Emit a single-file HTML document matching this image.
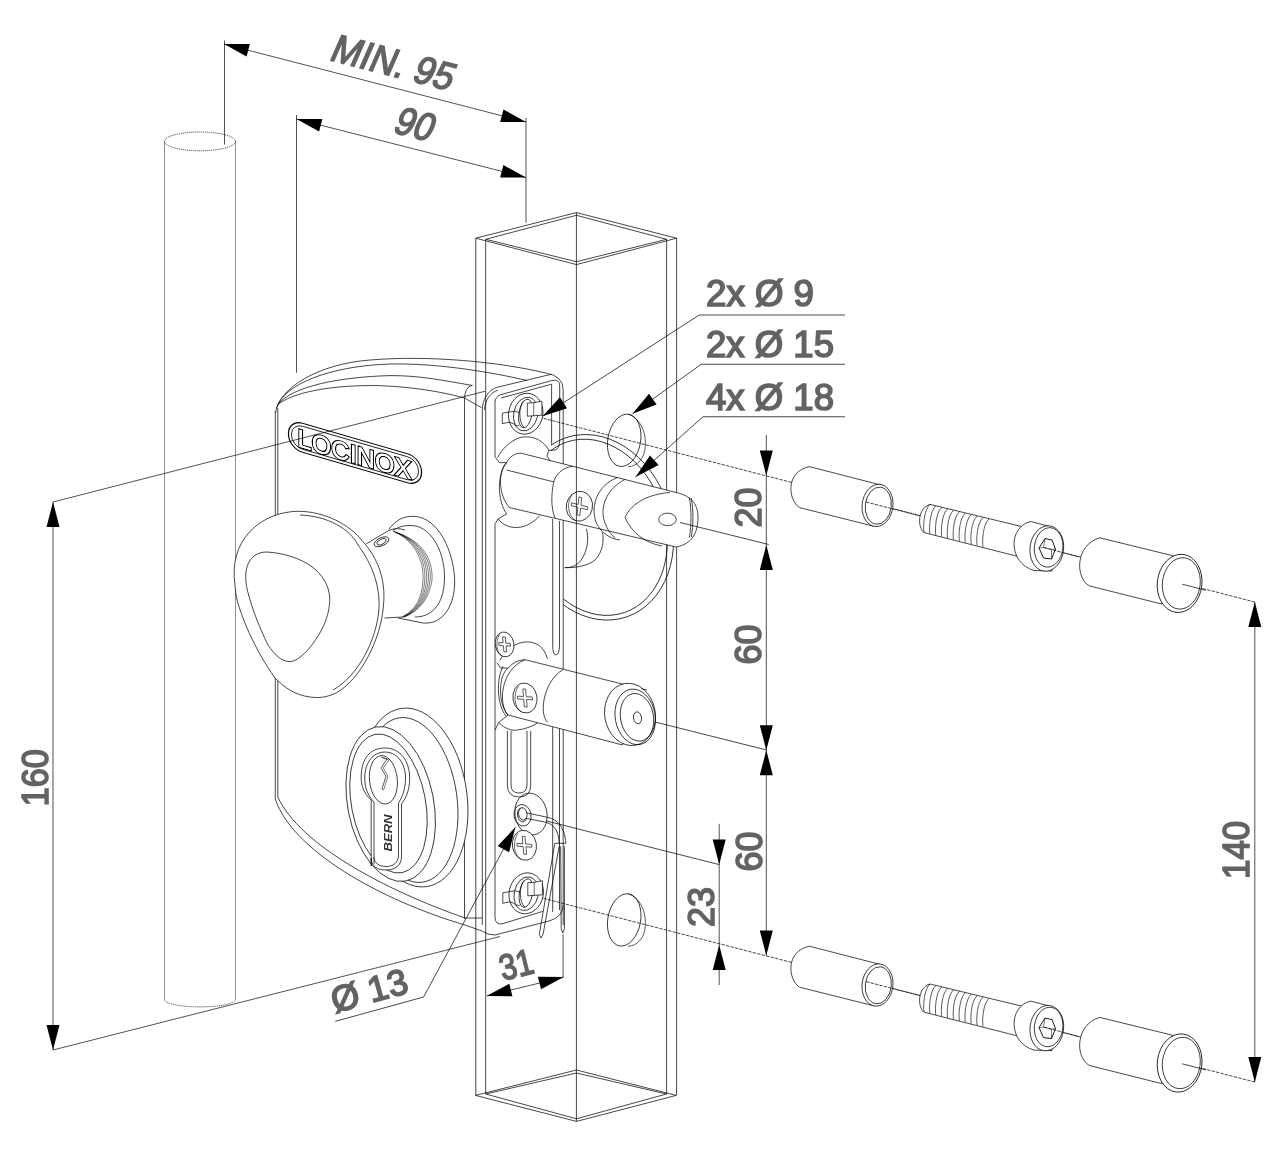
<!DOCTYPE html>
<html><head><meta charset="utf-8"><style>html,body{margin:0;padding:0;background:#fff;width:1280px;height:1155px;overflow:hidden}svg{display:block;will-change:transform}</style></head>
<body>
<svg width="1280" height="1155" viewBox="0 0 1280 1155">
<rect width="1280" height="1155" fill="#fff"/>
<line x1="164.50" y1="141.40" x2="164.50" y2="999.40" stroke="#222" stroke-width="1.008" stroke-dasharray="1 1"/>
<line x1="235.50" y1="141.40" x2="235.50" y2="999.40" stroke="#222" stroke-width="1.008" stroke-dasharray="1 1"/>
<ellipse cx="200" cy="141.4" rx="35.5" ry="9.4" transform="rotate(0 200 141.4)" stroke="#222" stroke-width="0.936" fill="none" stroke-dasharray="1 1"/>
<path d="M164.5,999.4 A35.5,7.5 0 0 0 235.5,999.4" stroke="#222" stroke-width="0.936" fill="none" stroke-dasharray="1 1"/>
<line x1="475.80" y1="238.20" x2="475.80" y2="1095.40" stroke="#000" stroke-width="0.720" />
<line x1="485.70" y1="239.30" x2="485.70" y2="1094.00" stroke="#000" stroke-width="0.720" />
<line x1="666.60" y1="239.30" x2="666.60" y2="1094.00" stroke="#000" stroke-width="0.720" />
<line x1="676.60" y1="238.20" x2="676.60" y2="1095.40" stroke="#000" stroke-width="0.720" />
<path d="M475.8,238.2 L576.4,212.6 L676.6,238.2 L576.4,264.6 Z" stroke="#000" stroke-width="0.720" fill="none" />
<path d="M485.7,239.3 L576.4,215.3 L666.6,239.3 L576.4,261.7 Z" stroke="#000" stroke-width="0.720" fill="none" />
<path d="M475.5,1095.4 L576.5,1070 L676.2,1095.4 L576.5,1121.4 Z" stroke="#000" stroke-width="0.720" fill="none" />
<path d="M485.7,1094 L576.5,1073 L666.5,1094 L576.5,1118.8 Z" stroke="#000" stroke-width="0.720" fill="none" />
<line x1="525.60" y1="413.75" x2="1254.80" y2="602.00" stroke="#000" stroke-width="0.720" stroke-dasharray="3.4 1.2"/>
<line x1="525.60" y1="893.75" x2="1254.80" y2="1082.00" stroke="#000" stroke-width="0.720" stroke-dasharray="3.4 1.2"/>
<line x1="638.40" y1="717.80" x2="766.50" y2="750.00" stroke="#000" stroke-width="0.720" />
<line x1="522.00" y1="814.80" x2="719.20" y2="864.60" stroke="#000" stroke-width="0.720" />
<line x1="275.30" y1="411.00" x2="275.30" y2="799.00" stroke="#000" stroke-width="0.720" />
<line x1="277.80" y1="408.00" x2="277.80" y2="797.00" stroke="#000" stroke-width="0.720" />
<path d="M275.3,799 C 292,850 380,900 465,925 L 482,931 Q 487,935 495,935 L 549,921 Q 563.2,917 563.2,905" stroke="#000" stroke-width="0.720" fill="none" />
<path d="M277.8,797 C 300,845 385,890 465,918 L 482,918" stroke="#000" stroke-width="0.720" fill="none" />
<path d="M464.5,919 L464.5,400 Q 464.5,386.5 472.3,385.4" stroke="#000" stroke-width="0.720" fill="none" />
<path d="M275.6,412.5 C 279,388 318,364 370,360 C 430,355 500,362 546.5,373.2 Q 563.2,376 563.2,390 L 563.2,925" stroke="#000" stroke-width="0.720" fill="none" />
<path d="M276.5,408 C 284,384 330,366 390,364 C 440,363 495,373 527,380.5" stroke="#000" stroke-width="0.720" fill="none" />
<path d="M277.5,405 C 292,386 340,377 390,375.6 C 420,375.5 440,380 472.3,385.4" stroke="#000" stroke-width="0.720" fill="none" />
<path d="M278.75,403.75 C 298,390 340,385 377.5,385.6 C 420,387 450,394 464.5,398 L 481.5,407.7" stroke="#000" stroke-width="0.720" fill="none" />
<path d="M482.3,925 L482.3,409.8 C 482.3,400 488,390 496.7,387.4 L 551.6,374.2" stroke="#000" stroke-width="0.720" fill="none" />
<path d="M484.5,410 C 485,400 490,393 498,390" stroke="#000" stroke-width="0.720" fill="none" />
<path d="M495,457 L495,402.7 Q 495,396.6 501,394.6 L 551.6,380.6 Q 559.7,378.6 559.7,386 L 559.7,441 Q 559.7,450 553.3,450.3 L 548.8,450.3" stroke="#000" stroke-width="0.720" fill="none" />
<path d="M501,398 L 551.6,384.2" stroke="#000" stroke-width="0.720" fill="none" />
<line x1="551.60" y1="384.40" x2="551.60" y2="444.30" stroke="#000" stroke-width="0.720" />
<path d="M495,523.4 L495,917 Q 495,925.6 503,923.6 L 542.8,911.4" stroke="#000" stroke-width="0.720" fill="none" />
<path d="M495.3,457 L499.3,462.6 L506.6,462.6" stroke="#000" stroke-width="0.720" fill="none" />
<path d="M497.7,457.5 C 502,449 510,441 520,437.5 C 530,435.5 542,438 548.8,450.3 L 547,456 L 551,462" stroke="#000" stroke-width="0.720" fill="none" />
<path d="M506.6,513.9 L498.1,518.9 L495.3,523.4" stroke="#000" stroke-width="0.720" fill="none" />
<path d="M498.1,518.9 C 503,526 512,528 518,527.4 C 527,527 535,521 539.8,515.6" stroke="#000" stroke-width="0.720" fill="none" />
<path d="M552.7,519 L552.7,645 Q 552.7,655 556,655 Q 559.5,654 559.5,645 L559.5,521" stroke="#000" stroke-width="0.720" fill="none" />
<ellipse cx="525.7" cy="413.7" rx="17.1" ry="20.6" transform="rotate(12 525.7 413.7)" stroke="#000" stroke-width="0.720" fill="#fff" />
<ellipse cx="525.7" cy="414.09999999999997" rx="12" ry="17" transform="rotate(12 525.7 414.09999999999997)" stroke="#000" stroke-width="0.720" fill="none" />
<ellipse cx="525.5" cy="413.5" rx="6.6" ry="14.5" transform="rotate(10 525.5 413.5)" stroke="#000" stroke-width="0.720" fill="none" />
<path d="M523.7,400.7 C 518.7,405.7 518.2,421.7 524.2,427.7" stroke="#000" stroke-width="0.720" fill="none" />
<path d="M509.1,412.0 L502.30000000000007,413.2 L502.30000000000007,423.7 L509.1,422.2" stroke="#000" stroke-width="0.720" fill="none" />
<path d="M509.1,412.0 L514.7,411.2 L519.7,412.7 M509.1,422.2 L513.7,423.7 L515.2,425.7 L519.2,425.7" stroke="#000" stroke-width="0.720" fill="none" />
<path d="M527.3000000000001,403.09999999999997 L533.7,402.7 L541.9000000000001,401.2 L541.9000000000001,415.2 L527.3000000000001,416.2 Z" stroke="#000" stroke-width="0.720" fill="#fff" />
<path d="M533.7,402.7 L533.7,415.7" stroke="#000" stroke-width="0.576" fill="none" />
<ellipse cx="526.2" cy="893.3" rx="17.1" ry="20.6" transform="rotate(12 526.2 893.3)" stroke="#000" stroke-width="0.720" fill="#fff" />
<ellipse cx="526.2" cy="893.6999999999999" rx="12" ry="17" transform="rotate(12 526.2 893.6999999999999)" stroke="#000" stroke-width="0.720" fill="none" />
<ellipse cx="526.0" cy="893.0999999999999" rx="6.6" ry="14.5" transform="rotate(10 526.0 893.0999999999999)" stroke="#000" stroke-width="0.720" fill="none" />
<path d="M524.2,880.3 C 519.2,885.3 518.7,901.3 524.7,907.3" stroke="#000" stroke-width="0.720" fill="none" />
<path d="M509.6,891.5999999999999 L502.80000000000007,892.8 L502.80000000000007,903.3 L509.6,901.8" stroke="#000" stroke-width="0.720" fill="none" />
<path d="M509.6,891.5999999999999 L515.2,890.8 L520.2,892.3 M509.6,901.8 L514.2,903.3 L515.7,905.3 L519.7,905.3" stroke="#000" stroke-width="0.720" fill="none" />
<path d="M527.8000000000001,882.6999999999999 L534.2,882.3 L542.4000000000001,880.8 L542.4000000000001,894.8 L527.8000000000001,895.8 Z" stroke="#000" stroke-width="0.720" fill="#fff" />
<path d="M534.2,882.3 L534.2,895.3" stroke="#000" stroke-width="0.576" fill="none" />
<clipPath id="cbig"><polygon points="551,400 760,400 760,700 563.5,700 563.5,470 551,470"/></clipPath>
<g clip-path="url(#cbig)">
<ellipse cx="596.3" cy="527.3" rx="75" ry="94.6" transform="rotate(-18.7 596.3 527.3)" stroke="#000" stroke-width="0.720" fill="none" />
<ellipse cx="595.5" cy="527.3" rx="69.5" ry="90" transform="rotate(-18.7 595.5 527.3)" stroke="#000" stroke-width="0.720" fill="none" />
</g>
<ellipse cx="624.2" cy="440.3" rx="16.4" ry="26.4" transform="rotate(10 624.2 440.3)" stroke="#000" stroke-width="0.720" fill="none" />
<path d="M628.5,414.2 C 639,418 646,430 645.4,445 C 645,458 638,466 628,466.8" stroke="#000" stroke-width="0.648" fill="none" />
<ellipse cx="624.2" cy="919.9000000000001" rx="16.4" ry="26.4" transform="rotate(10 624.2 919.9000000000001)" stroke="#000" stroke-width="0.720" fill="none" />
<path d="M628.5,893.8 C 639,897.6 646,909.6 645.4,924.6 C 645,937.6 638,945.6 628,946.4000000000001" stroke="#000" stroke-width="0.648" fill="none" />
<path d="M520.7,453.1 L676.25,492.5 C 692,496 698,505 698,517 C 698,533 692,544 676.25,547 L 509.4,507.5 C 498,495 498,470 506.6,462.6 C 510,456 515,453.5 520.7,453.1 Z" stroke="#000" stroke-width="0.720" fill="#fff" />
<path d="M506.6,470 L553.75,481.9" stroke="#000" stroke-width="0.720" fill="none" />
<path d="M553.75,481.9 C 551,495 551,508 555,518.1" stroke="#000" stroke-width="0.720" fill="none" />
<path d="M553.75,481.9 C 556,474 562,468 572.5,466.25" stroke="#000" stroke-width="0.720" fill="none" />
<path d="M506.6,462.6 C 497,475 497,500 506.6,513.9" stroke="#000" stroke-width="0.720" fill="none" />
<path d="M617.5,477.5 C 598,485 590,505 596,522 C 600,532 610,539 620,540" stroke="#000" stroke-width="0.720" fill="none" />
<path d="M625,479.4 C 608,488 600,505 604,520 C 607,530 612,536 615,537.5" stroke="#000" stroke-width="0.720" fill="none" />
<path d="M625,517.5 C 632,502 650,494 670,492.5" stroke="#000" stroke-width="0.720" fill="none" />
<path d="M625,517.5 C 632,533 645,543 662,546" stroke="#000" stroke-width="0.720" fill="none" />
<path d="M689.4,497.5 C 691.5,510 691.5,525 689.4,537.5" stroke="#000" stroke-width="0.720" fill="none" />
<path d="M691.25,498 C 693.5,510 693.5,525 691.25,537" stroke="#000" stroke-width="0.720" fill="none" />
<ellipse cx="667.5" cy="519.4" rx="8.75" ry="6.25" transform="rotate(0 667.5 519.4)" stroke="#000" stroke-width="0.720" fill="none" />
<line x1="680.00" y1="522.50" x2="768.75" y2="544.50" stroke="#000" stroke-width="0.720" />
<ellipse cx="579.4" cy="506.25" rx="13.1" ry="15" transform="rotate(12 579.4 506.25)" stroke="#000" stroke-width="0.720" fill="#fff" />
<path d="M572.1949999999999,494.25 C 566.3,503.25 567.61,515.25 575.47,520.5" stroke="#000" stroke-width="0.576" fill="none" />
<polygon points="578.95,496.94 581.73,497.66 580.94,505.21 587.62,506.92 587.33,509.71 580.65,508.00 579.85,515.56 577.07,514.84 577.86,507.29 571.18,505.58 571.47,502.79 578.15,504.50" fill="#fff" stroke="#000" stroke-width="0.648"/>
<path d="M586.25,528.75 C 589,537 588,550 581.25,560 C 577,566 570,568 564.8,567.6" stroke="#000" stroke-width="0.720" fill="none" />
<path d="M602.5,532.5 C 604,540 603,552 595,560 C 588,566 575,568 564.8,567.6" stroke="#000" stroke-width="0.720" fill="none" />
<path d="M496.9,662.5 L500.6,668.1 L508.1,668.1" stroke="#000" stroke-width="0.720" fill="none" />
<path d="M499.7,660.6 C 505,650 516,642 526.9,641.9 C 537,642 544,647 547.5,658.8" stroke="#000" stroke-width="0.720" fill="none" />
<path d="M508.1,715 L498.75,722.5 L495,730" stroke="#000" stroke-width="0.720" fill="none" />
<path d="M498.75,722.5 C 505,729 512,731 517.5,730 C 526,729 533,726 538.1,722.5" stroke="#000" stroke-width="0.720" fill="none" />
<path d="M525,659.7 L641.25,688.75 L622.5,745 L508.1,715 C 498,705 498,675 508.1,668.1 Q 515,660 525,659.7 Z" stroke="#000" stroke-width="0.720" fill="#fff" />
<path d="M525,659.7 C 500,670 498,705 508.1,715" stroke="#000" stroke-width="0.720" fill="none" />
<path d="M503,666 C 496,680 497,705 506,716" stroke="#000" stroke-width="0.720" fill="none" />
<path d="M562.5,670 C 545,680 538,712 547.5,722.5" stroke="#000" stroke-width="0.720" fill="none" />
<ellipse cx="630" cy="714.4" rx="25.3" ry="31.3" transform="rotate(-10 630 714.4)" stroke="#000" stroke-width="0.720" fill="#fff" />
<ellipse cx="635.2" cy="716.9" rx="20" ry="28" transform="rotate(-10 635.2 716.9)" stroke="#000" stroke-width="0.720" fill="none" />
<ellipse cx="637" cy="717.3" rx="16.5" ry="24" transform="rotate(-10 637 717.3)" stroke="#000" stroke-width="0.720" fill="none" />
<ellipse cx="637.5" cy="717.8" rx="4" ry="6" transform="rotate(-10 637.5 717.8)" stroke="#000" stroke-width="0.720" fill="none" />
<path d="M641.25,688.75 L 647,690" stroke="#000" stroke-width="0.720" fill="none" />
<ellipse cx="525" cy="698" rx="12" ry="15" transform="rotate(-10 525 698)" stroke="#000" stroke-width="0.720" fill="#fff" />
<path d="M518.4,686.0 C 513.0,695.0 514.2,707.0 521.4,712.25" stroke="#000" stroke-width="0.576" fill="none" />
<polygon points="522.82,688.95 525.61,689.12 526.27,696.69 532.29,697.07 532.53,699.86 526.52,699.48 527.18,707.05 524.39,706.88 523.73,699.31 517.71,698.93 517.47,696.14 523.48,696.52" fill="#fff" stroke="#000" stroke-width="0.648"/>
<ellipse cx="504.6" cy="644.4" rx="9.3" ry="12.5" transform="rotate(-10 504.6 644.4)" stroke="#000" stroke-width="0.720" fill="#fff" />
<path d="M499.485,634.4 C 495.3,641.9 496.23,651.9 501.81,656.275" stroke="#000" stroke-width="0.576" fill="none" />
<polygon points="502.55,636.84 505.34,637.02 505.87,643.09 510.22,643.37 510.47,646.16 506.12,645.88 506.65,651.96 503.86,651.78 503.33,645.71 498.98,645.43 498.73,642.64 503.08,642.92" fill="#fff" stroke="#000" stroke-width="0.648"/>
<ellipse cx="531" cy="814" rx="16" ry="21" transform="rotate(-10 531 814)" stroke="#000" stroke-width="0.720" fill="#fff" />
<ellipse cx="522.6" cy="815.3" rx="8.5" ry="10.8" transform="rotate(-10 522.6 815.3)" stroke="#000" stroke-width="0.720" fill="none" />
<ellipse cx="522" cy="815" rx="4.5" ry="7" transform="rotate(-10 522 815)" stroke="#000" stroke-width="0.720" fill="none" />
<ellipse cx="524.4" cy="845.3" rx="12" ry="15" transform="rotate(-10 524.4 845.3)" stroke="#000" stroke-width="0.720" fill="#fff" />
<path d="M517.8,833.3 C 512.4,842.3 513.6,854.3 520.8,859.55" stroke="#000" stroke-width="0.576" fill="none" />
<polygon points="522.22,836.25 525.01,836.42 525.67,843.99 531.69,844.37 531.93,847.16 525.92,846.78 526.58,854.35 523.79,854.18 523.13,846.61 517.11,846.23 516.87,843.44 522.88,843.82" fill="#fff" stroke="#000" stroke-width="0.648"/>
<path d="M507.4,731 L507.4,785 Q 507.4,797 519,797 Q 530.7,797 530.7,785 L530.7,731" stroke="#000" stroke-width="0.720" fill="none" />
<path d="M511,731 L511,785 Q 511,793 519,793 Q 527,793 527,785 L527,731" stroke="#000" stroke-width="0.720" fill="none" />
<line x1="552.70" y1="727.00" x2="552.70" y2="912.00" stroke="#000" stroke-width="0.720" />
<line x1="559.50" y1="729.00" x2="559.50" y2="910.00" stroke="#000" stroke-width="0.720" />
<line x1="576.40" y1="212.60" x2="576.40" y2="1121.40" stroke="#000" stroke-width="0.720" />
<path d="M520.9,811.7 L548.9,817.6 C 553,818.8 557,821 560,825 C 563,829 565.5,836 565.8,843.3 L 554.8,843.3 L 539.3,934.6 L 541,938 L 543,934.6 L 559.2,846.3" stroke="#000" stroke-width="0.720" fill="none" />
<path d="M522.4,817.6 L544.5,822 C 549,823 553,825 555.5,829 C 558,833 559,838 559.2,843.3" stroke="#000" stroke-width="0.720" fill="none" />
<path d="M560.7,846.3 L561.2,928.7 L 562.8,933 L 564.4,928.7 L564.4,846.3" stroke="#000" stroke-width="0.720" fill="none" />
<ellipse cx="522.8" cy="813.9" rx="4.2" ry="6.2" transform="rotate(-10 522.8 813.9)" stroke="#000" stroke-width="0.720" fill="#fff" />
<path d="M388.6,529.6 C 395,521 402,517 410,516.4 C 435,514 452,545 454.6,577.3 C 456,605 443,625 423.1,623 L 398,618" stroke="#000" stroke-width="0.720" fill="none" />
<path d="M392.7,530.6 C 398,527 403,525.5 409,525.5 C 430,524 444,550 444.5,575.3 C 445,600 435,617 415,617" stroke="#000" stroke-width="0.720" fill="none" />
<path d="M393.0,531.0 C 418,542 424,565 423,580 C 422.0,598 416.0,610 402.0,617" stroke="#000" stroke-width="0.504" fill="none" />
<path d="M393.72,531.36 C 419.8,542 425.8,565 424.8,580 C 423.44,598 416.9,610 402.54,617" stroke="#000" stroke-width="0.504" fill="none" />
<path d="M394.44,531.72 C 421.6,542 427.6,565 426.6,580 C 424.88,598 417.8,610 403.08,617" stroke="#000" stroke-width="0.504" fill="none" />
<path d="M395.16,532.08 C 423.4,542 429.4,565 428.4,580 C 426.32,598 418.7,610 403.62,617" stroke="#000" stroke-width="0.504" fill="none" />
<path d="M395.88,532.44 C 425.2,542 431.2,565 430.2,580 C 427.76,598 419.6,610 404.16,617" stroke="#000" stroke-width="0.504" fill="none" />
<path d="M396.6,532.8 C 427.0,542 433.0,565 432.0,580 C 429.2,598 420.5,610 404.7,617" stroke="#000" stroke-width="0.504" fill="none" />
<path d="M366.3,543.8 L388.6,530.6 Q 396,527 405,530" stroke="#000" stroke-width="0.720" fill="none" />
<path d="M384.5,618 L 402.8,617" stroke="#000" stroke-width="0.720" fill="none" />
<ellipse cx="381.5" cy="541.8" rx="8" ry="4" transform="rotate(-25 381.5 541.8)" stroke="#000" stroke-width="0.720" fill="none" />
<ellipse cx="381.5" cy="541.8" rx="5" ry="2.5" transform="rotate(-25 381.5 541.8)" stroke="#000" stroke-width="0.720" fill="none" />
<path d="M234.2,577.3 C 232,535 265,512 297.2,511.3 C 325,511 350,525 362.2,540.8 C 378,558 386,580 383.5,605 C 381,640 360,680 335.8,693.1 C 325,698 318,698 310,697 C 295,695 285,688 275,678 C 255,650 240,615 236,595 Z" stroke="#000" stroke-width="0.720" fill="#fff" />
<path d="M300,515 C 328,516 350,529 358,545 C 372,564 380,585 379,608 C 377,640 358,676 333,690" stroke="#000" stroke-width="0.720" fill="none" />
<path d="M266.7,552 C 285,553 301,559 311,566 C 322,574 329,585 329.7,597.7 C 330,612 325,630 307.3,650.5 C 300,658 295,661.6 289,661.6 C 281,661 275,655 268,645 C 258,625 249,600 246.4,585.5 C 244,570 248,561 254,556 C 258,553 262,552 266.7,552 Z" stroke="#000" stroke-width="0.720" fill="none" />
<g transform="translate(355,453) skewY(16.2)">
<rect x="-66.5" y="-14.5" width="133" height="29" rx="14" fill="none" stroke="#000" stroke-width="1.2"/>
<rect x="-63.5" y="-11.5" width="127" height="23" rx="11" fill="none" stroke="#000" stroke-width="0.8"/>
<text x="-0.5" y="10" font-family="Liberation Sans, sans-serif" font-size="25" font-weight="normal" text-anchor="middle" textLength="114" lengthAdjust="spacing" fill="#fff" stroke="#000" stroke-width="2.4" paint-order="stroke">LOCINOX</text>
<text x="-0.5" y="10" font-family="Liberation Sans, sans-serif" font-size="25" font-weight="normal" text-anchor="middle" textLength="114" lengthAdjust="spacing" fill="#fff" stroke="none">LOCINOX</text>
</g>
<ellipse cx="414" cy="797.5" rx="53" ry="90" transform="rotate(-8 414 797.5)" stroke="#000" stroke-width="0.720" fill="#fff" />
<ellipse cx="411" cy="800" rx="46" ry="83" transform="rotate(-8 411 800)" stroke="#000" stroke-width="0.720" fill="none" />
<ellipse cx="390.7" cy="804" rx="43" ry="78.5" transform="rotate(-11 390.7 804)" stroke="#000" stroke-width="0.720" fill="#fff" />
<ellipse cx="388.5" cy="803.5" rx="37" ry="70.5" transform="rotate(-11 388.5 803.5)" stroke="#000" stroke-width="0.720" fill="none" />
<path d="M371.2,866 L371.2,800 C 363,793 360,783 361.5,772 C 363,756 372,748 385,748 C 398,748 408,758 409.5,774 C 410.5,787 407,797 401.5,804 L401.5,856 C 401.5,866 395,870 386,870 C 377,870 371.2,866 371.2,858 Z" stroke="#000" stroke-width="0.720" fill="#fff" />
<path d="M374,864 L374,802 C 366,794 364,784 365,773 C 367,759 375,752 385,752 C 396,752 404,761 405.5,775 C 406,787 403,796 398.5,803 L398.5,855 C 398.5,863 393,866.5 386,866.5 C 379,866.5 374,863 374,857" stroke="#000" stroke-width="0.720" fill="none" />
<ellipse cx="383.4" cy="779.8" rx="13.9" ry="24.3" transform="rotate(-6 383.4 779.8)" stroke="#000" stroke-width="0.720" fill="none" />
<path d="M381,757 L387,759 L381,768 L386,776 L382,789 L384,790" stroke="#000" stroke-width="0.648" fill="none" />
<path d="M383,758 L389,760 L383,768 L388,776 L384,789" stroke="#000" stroke-width="0.504" fill="none" />
<text x="0" y="0" font-family="Liberation Sans, sans-serif" font-size="11.5" font-weight="bold" font-style="italic" text-anchor="middle" textLength="37" lengthAdjust="spacingAndGlyphs" transform="translate(391.5,833) rotate(-90)" fill="#333">BERN</text>
<g transform="translate(0,0)">
<path d="M809.3,466.6 L881.6,485.2 L873.75,526.2 L799.5,507.6 C 788,500 785,472 809.3,466.6 Z" stroke="#000" stroke-width="0.720" fill="#fff" />
<ellipse cx="877.5" cy="505.4" rx="15.4" ry="21.2" transform="rotate(7 877.5 505.4)" stroke="#000" stroke-width="0.720" fill="#fff" />
<ellipse cx="878.3" cy="505.7" rx="13" ry="18.6" transform="rotate(7 878.3 505.7)" stroke="#000" stroke-width="0.720" fill="none" />
<line x1="866.00" y1="502.00" x2="921.00" y2="516.20" stroke="#000" stroke-width="0.720" stroke-dasharray="3.4 1.2"/>
<path d="M930,504.4 L1032,529 L1026,558.5 L923.75,532.5 C 917,526 918,508 930,504.4 Z" stroke="#000" stroke-width="0.720" fill="#fff" />
<path d="M930.0,504.4 C 924.0,509.4 923.0,526.4 924.0,532.4" stroke="#000" stroke-width="0.648" fill="none" />
<path d="M935.9,505.84999999999997 C 929.9,510.84999999999997 928.9,527.8499999999999 929.9,533.8499999999999" stroke="#000" stroke-width="0.648" fill="none" />
<path d="M941.8,507.29999999999995 C 935.8,512.3 934.8,529.3 935.8,535.3" stroke="#000" stroke-width="0.648" fill="none" />
<path d="M947.7,508.75 C 941.7,513.75 940.7,530.75 941.7,536.75" stroke="#000" stroke-width="0.648" fill="none" />
<path d="M953.6,510.2 C 947.6,515.2 946.6,532.2 947.6,538.2" stroke="#000" stroke-width="0.648" fill="none" />
<path d="M959.5,511.65 C 953.5,516.65 952.5,533.65 953.5,539.65" stroke="#000" stroke-width="0.648" fill="none" />
<path d="M965.4,513.1 C 959.4,518.1 958.4,535.1 959.4,541.1" stroke="#000" stroke-width="0.648" fill="none" />
<path d="M971.3,514.55 C 965.3,519.55 964.3,536.55 965.3,542.55" stroke="#000" stroke-width="0.648" fill="none" />
<path d="M977.2,516.0 C 971.2,521.0 970.2,538.0 971.2,544.0" stroke="#000" stroke-width="0.648" fill="none" />
<path d="M983.1,517.4499999999999 C 977.1,522.4499999999999 976.1,539.4499999999999 977.1,545.4499999999999" stroke="#000" stroke-width="0.648" fill="none" />
<path d="M989.0,518.9 C 983.0,523.9 982.0,540.9 983.0,546.9" stroke="#000" stroke-width="0.648" fill="none" />
<path d="M1030.5,521.5 L1050,526.5 L1052,571 L1034,570.5 C 1008,563 1008,527 1030.5,521.5 Z" stroke="#000" stroke-width="0.720" fill="#fff" />
<ellipse cx="1046.8" cy="548.5" rx="16.8" ry="22.8" transform="rotate(7 1046.8 548.5)" stroke="#000" stroke-width="0.720" fill="#fff" />
<ellipse cx="1048.6" cy="547.4" rx="14.2" ry="19.8" transform="rotate(7 1048.6 547.4)" stroke="#000" stroke-width="0.720" fill="none" />
<polygon points="1045,538.5 1052,540 1055.5,549 1051.5,559 1043.5,558 1039,548" fill="#fff" stroke="#000" stroke-width="0.9"/>
<path d="M1045,538.5 L1043.5,547.5 L1039,548 M1043.5,547.5 L1051.5,549.5 L1055.5,549 M1051.5,549.5 L1051.5,559" stroke="#000" stroke-width="0.504" fill="none" />
<line x1="1044.00" y1="547.50" x2="1079.50" y2="557.20" stroke="#000" stroke-width="0.720" stroke-dasharray="3.4 1.2"/>
<path d="M1099.7,537.8 L1173.6,555.9 L1161.6,604 L1089.4,585.9 C 1075,578 1075,545 1099.7,537.8 Z" stroke="#000" stroke-width="0.720" fill="#fff" />
<ellipse cx="1179.6" cy="583.4" rx="22.3" ry="29.2" transform="rotate(7 1179.6 583.4)" stroke="#000" stroke-width="0.792" fill="#fff" />
<ellipse cx="1181.3" cy="583.4" rx="18.9" ry="25.8" transform="rotate(7 1181.3 583.4)" stroke="#000" stroke-width="0.720" fill="none" />
<line x1="1182.20" y1="584.20" x2="1206.00" y2="590.30" stroke="#000" stroke-width="0.720" />
</g>
<g transform="translate(0,479.6)">
<path d="M809.3,466.6 L881.6,485.2 L873.75,526.2 L799.5,507.6 C 788,500 785,472 809.3,466.6 Z" stroke="#000" stroke-width="0.720" fill="#fff" />
<ellipse cx="877.5" cy="505.4" rx="15.4" ry="21.2" transform="rotate(7 877.5 505.4)" stroke="#000" stroke-width="0.720" fill="#fff" />
<ellipse cx="878.3" cy="505.7" rx="13" ry="18.6" transform="rotate(7 878.3 505.7)" stroke="#000" stroke-width="0.720" fill="none" />
<line x1="866.00" y1="502.00" x2="921.00" y2="516.20" stroke="#000" stroke-width="0.720" stroke-dasharray="3.4 1.2"/>
<path d="M930,504.4 L1032,529 L1026,558.5 L923.75,532.5 C 917,526 918,508 930,504.4 Z" stroke="#000" stroke-width="0.720" fill="#fff" />
<path d="M930.0,504.4 C 924.0,509.4 923.0,526.4 924.0,532.4" stroke="#000" stroke-width="0.648" fill="none" />
<path d="M935.9,505.84999999999997 C 929.9,510.84999999999997 928.9,527.8499999999999 929.9,533.8499999999999" stroke="#000" stroke-width="0.648" fill="none" />
<path d="M941.8,507.29999999999995 C 935.8,512.3 934.8,529.3 935.8,535.3" stroke="#000" stroke-width="0.648" fill="none" />
<path d="M947.7,508.75 C 941.7,513.75 940.7,530.75 941.7,536.75" stroke="#000" stroke-width="0.648" fill="none" />
<path d="M953.6,510.2 C 947.6,515.2 946.6,532.2 947.6,538.2" stroke="#000" stroke-width="0.648" fill="none" />
<path d="M959.5,511.65 C 953.5,516.65 952.5,533.65 953.5,539.65" stroke="#000" stroke-width="0.648" fill="none" />
<path d="M965.4,513.1 C 959.4,518.1 958.4,535.1 959.4,541.1" stroke="#000" stroke-width="0.648" fill="none" />
<path d="M971.3,514.55 C 965.3,519.55 964.3,536.55 965.3,542.55" stroke="#000" stroke-width="0.648" fill="none" />
<path d="M977.2,516.0 C 971.2,521.0 970.2,538.0 971.2,544.0" stroke="#000" stroke-width="0.648" fill="none" />
<path d="M983.1,517.4499999999999 C 977.1,522.4499999999999 976.1,539.4499999999999 977.1,545.4499999999999" stroke="#000" stroke-width="0.648" fill="none" />
<path d="M989.0,518.9 C 983.0,523.9 982.0,540.9 983.0,546.9" stroke="#000" stroke-width="0.648" fill="none" />
<path d="M1030.5,521.5 L1050,526.5 L1052,571 L1034,570.5 C 1008,563 1008,527 1030.5,521.5 Z" stroke="#000" stroke-width="0.720" fill="#fff" />
<ellipse cx="1046.8" cy="548.5" rx="16.8" ry="22.8" transform="rotate(7 1046.8 548.5)" stroke="#000" stroke-width="0.720" fill="#fff" />
<ellipse cx="1048.6" cy="547.4" rx="14.2" ry="19.8" transform="rotate(7 1048.6 547.4)" stroke="#000" stroke-width="0.720" fill="none" />
<polygon points="1045,538.5 1052,540 1055.5,549 1051.5,559 1043.5,558 1039,548" fill="#fff" stroke="#000" stroke-width="0.9"/>
<path d="M1045,538.5 L1043.5,547.5 L1039,548 M1043.5,547.5 L1051.5,549.5 L1055.5,549 M1051.5,549.5 L1051.5,559" stroke="#000" stroke-width="0.504" fill="none" />
<line x1="1044.00" y1="547.50" x2="1079.50" y2="557.20" stroke="#000" stroke-width="0.720" stroke-dasharray="3.4 1.2"/>
<path d="M1099.7,537.8 L1173.6,555.9 L1161.6,604 L1089.4,585.9 C 1075,578 1075,545 1099.7,537.8 Z" stroke="#000" stroke-width="0.720" fill="#fff" />
<ellipse cx="1179.6" cy="583.4" rx="22.3" ry="29.2" transform="rotate(7 1179.6 583.4)" stroke="#000" stroke-width="0.792" fill="#fff" />
<ellipse cx="1181.3" cy="583.4" rx="18.9" ry="25.8" transform="rotate(7 1181.3 583.4)" stroke="#000" stroke-width="0.720" fill="none" />
<line x1="1182.20" y1="584.20" x2="1206.00" y2="590.30" stroke="#000" stroke-width="0.720" />
</g>
<line x1="224.50" y1="40.50" x2="224.50" y2="144.50" stroke="#000" stroke-width="0.684" />
<line x1="526.00" y1="118.00" x2="526.00" y2="222.60" stroke="#000" stroke-width="0.684" />
<line x1="224.00" y1="44.00" x2="526.00" y2="122.00" stroke="#000" stroke-width="0.684" />
<polygon points="224.00,44.00 249.83,43.96 246.58,56.55" fill="#000"/>
<polygon points="526.00,122.00 500.17,122.04 503.42,109.45" fill="#000"/>
<line x1="296.50" y1="115.00" x2="296.50" y2="372.75" stroke="#000" stroke-width="0.684" />
<line x1="296.50" y1="119.00" x2="526.00" y2="177.50" stroke="#000" stroke-width="0.684" />
<polygon points="296.50,119.00 322.33,118.88 319.12,131.47" fill="#000"/>
<polygon points="526.00,177.50 500.17,177.62 503.38,165.03" fill="#000"/>
<line x1="53.00" y1="502.00" x2="53.00" y2="1050.00" stroke="#000" stroke-width="0.684" />
<polygon points="53.00,502.00 59.50,527.00 46.50,527.00" fill="#000"/>
<polygon points="53.00,1050.00 46.50,1025.00 59.50,1025.00" fill="#000"/>
<line x1="53.00" y1="502.00" x2="485.00" y2="391.25" stroke="#000" stroke-width="0.684" />
<line x1="53.00" y1="1050.00" x2="500.00" y2="936.50" stroke="#000" stroke-width="0.684" />
<line x1="766.30" y1="435.00" x2="766.30" y2="955.60" stroke="#000" stroke-width="0.684" />
<polygon points="766.30,475.50 759.80,450.50 772.80,450.50" fill="#000"/>
<polygon points="766.30,545.00 772.80,570.00 759.80,570.00" fill="#000"/>
<polygon points="766.30,750.20 759.80,725.20 772.80,725.20" fill="#000"/>
<polygon points="766.30,750.20 772.80,775.20 759.80,775.20" fill="#000"/>
<polygon points="766.30,955.60 759.80,930.60 772.80,930.60" fill="#000"/>
<line x1="719.20" y1="823.80" x2="719.20" y2="985.00" stroke="#000" stroke-width="0.684" />
<polygon points="719.20,864.60 712.70,839.60 725.70,839.60" fill="#000"/>
<polygon points="719.20,945.00 725.70,970.00 712.70,970.00" fill="#000"/>
<line x1="1254.80" y1="602.00" x2="1254.80" y2="1082.00" stroke="#000" stroke-width="0.684" />
<polygon points="1254.80,602.00 1261.30,627.00 1248.30,627.00" fill="#000"/>
<polygon points="1254.80,1082.00 1248.30,1057.00 1261.30,1057.00" fill="#000"/>
<line x1="563.10" y1="934.00" x2="563.10" y2="977.10" stroke="#000" stroke-width="0.684" />
<line x1="486.60" y1="996.00" x2="563.75" y2="977.10" stroke="#000" stroke-width="0.684" />
<polygon points="486.60,996.00 509.34,983.74 512.43,996.36" fill="#000"/>
<polygon points="563.75,977.10 541.01,989.36 537.92,976.74" fill="#000"/>
<path d="M845,315 L699.25,315 L542.5,416.25" stroke="#000" stroke-width="0.720" fill="none" />
<polygon points="542.50,416.25 559.97,397.23 567.03,408.15" fill="#000"/>
<path d="M845,364.25 L701.25,364.25 L632.5,413.75" stroke="#000" stroke-width="0.720" fill="none" />
<polygon points="632.50,413.75 648.99,393.87 656.59,404.42" fill="#000"/>
<path d="M845,416.75 L703,416.75 L635.6,476.9" stroke="#000" stroke-width="0.720" fill="none" />
<polygon points="635.60,476.90 649.92,455.40 658.58,465.10" fill="#000"/>
<path d="M335.2,1021.4 L423.6,997 L515.3,827.2" stroke="#000" stroke-width="0.720" fill="none" />
<polygon points="515.30,827.20 509.14,852.29 497.70,846.11" fill="#000"/>
<g fill="#636363" stroke="#636363" stroke-width="1.6" font-family="Liberation Sans, sans-serif" font-weight="normal">
<text x="706" y="306" font-size="36" text-anchor="start" textLength="108" lengthAdjust="spacingAndGlyphs" transform="">2x Ø 9</text>
<text x="706" y="357" font-size="36" text-anchor="start" textLength="128" lengthAdjust="spacingAndGlyphs" transform="">2x Ø 15</text>
<text x="706" y="409.5" font-size="36" text-anchor="start" textLength="128" lengthAdjust="spacingAndGlyphs" transform="">4x Ø 18</text>
<text x="0" y="0" font-size="37" text-anchor="middle" textLength="40" lengthAdjust="spacingAndGlyphs" transform="translate(761,507.5) rotate(-90)">20</text>
<text x="0" y="0" font-size="37" text-anchor="middle" textLength="40" lengthAdjust="spacingAndGlyphs" transform="translate(761,644.6) rotate(-90)">60</text>
<text x="0" y="0" font-size="37" text-anchor="middle" textLength="40" lengthAdjust="spacingAndGlyphs" transform="translate(761.5,851.5) rotate(-90)">60</text>
<text x="0" y="0" font-size="37" text-anchor="middle" textLength="40" lengthAdjust="spacingAndGlyphs" transform="translate(714,907) rotate(-90)">23</text>
<text x="0" y="0" font-size="37" text-anchor="middle" textLength="58" lengthAdjust="spacingAndGlyphs" transform="translate(1249.3,849.9) rotate(-90)">140</text>
<text x="0" y="0" font-size="37" text-anchor="middle" textLength="57" lengthAdjust="spacingAndGlyphs" transform="translate(47.8,777.7) rotate(-90)">160</text>
<text x="0" y="0" font-size="36" text-anchor="start" textLength="34" lengthAdjust="spacingAndGlyphs" transform="translate(502.8,980.8) rotate(-14)">31</text>
<text x="0" y="0" font-size="36" text-anchor="start" textLength="78" lengthAdjust="spacingAndGlyphs" transform="translate(335,1013) rotate(-15.5)">Ø 13</text>
<text x="0" y="0" font-size="39.5" text-anchor="start" textLength="125" lengthAdjust="spacingAndGlyphs" transform="matrix(0.9681,0.2504,-0.4019,0.9157,328,59.5)">MIN. 95</text>
<text x="0" y="0" font-size="40" text-anchor="start" textLength="38.5" lengthAdjust="spacingAndGlyphs" transform="matrix(0.9681,0.2504,-0.4019,0.9157,391.5,132)">90</text>
</g>
</svg>
</body></html>
